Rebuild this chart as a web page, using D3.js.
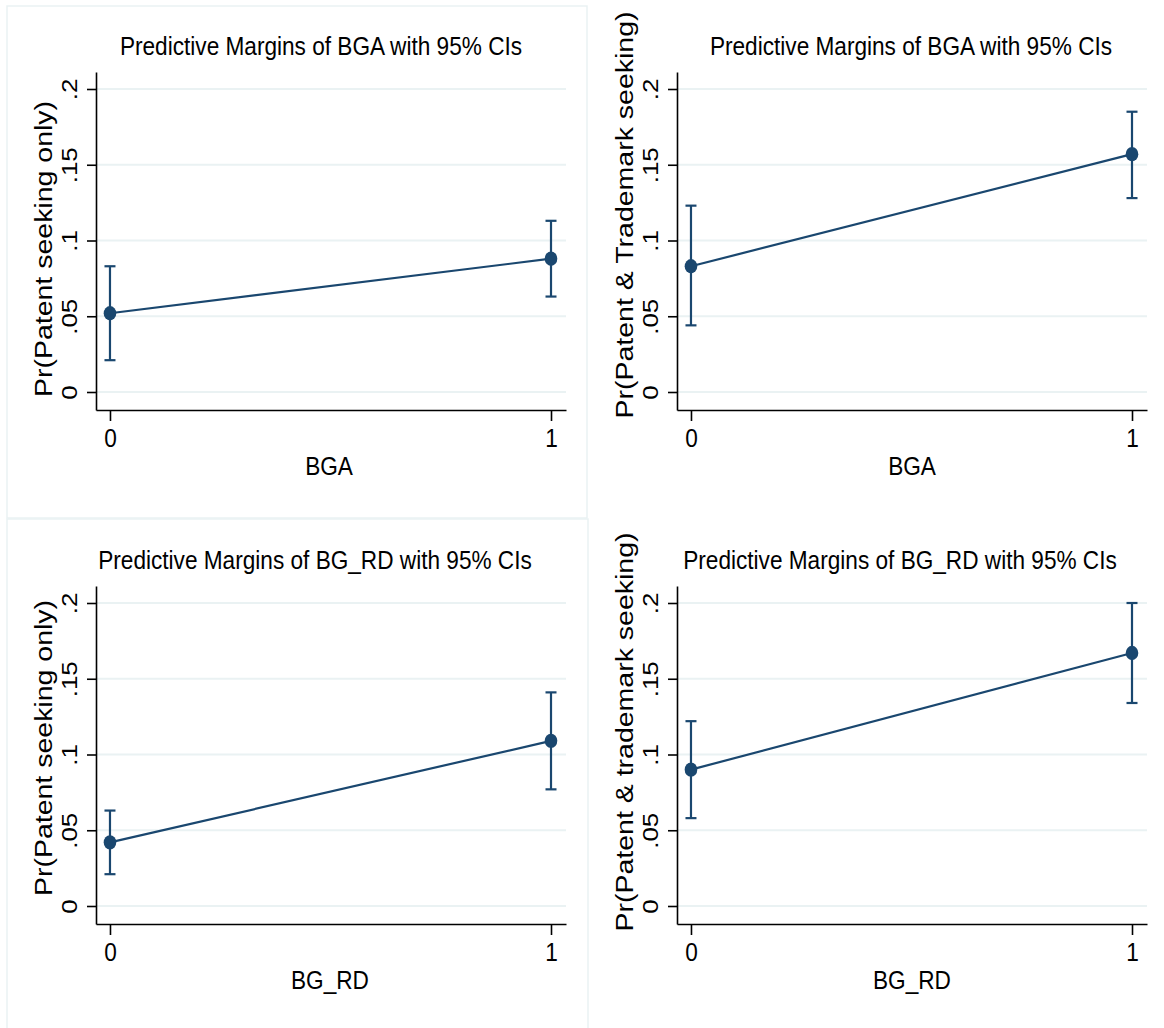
<!DOCTYPE html>
<html>
<head>
<meta charset="utf-8">
<script src="https://cdn.jsdelivr.net/npm/d3@7"></script>
<style>
  html, body { margin: 0; padding: 0; background: #fff; }
  svg { display: block; }
  text { font-family: "Liberation Sans", Arial, sans-serif; fill: #000; }
</style>
</head>
<body>
<svg id="chart" width="1164" height="1028"></svg>
<script>
// ---------- data ----------
const xCategories = [0, 1];
const xTickLabels = ["0", "1"];
const yTickValues = [0, 0.05, 0.1, 0.15, 0.2];
const yTickLabels = ["0", ".05", ".1", ".15", ".2"];

const panelTitles = [
  "Predictive Margins of BGA with 95% CIs",
  "Predictive Margins of BGA with 95% CIs",
  "Predictive Margins of BG_RD with 95% CIs",
  "Predictive Margins of BG_RD with 95% CIs"
];
const yTitles = [
  "Pr(Patent seeking only)",
  "Pr(Patent & Trademark seeking)",
  "Pr(Patent seeking only)",
  "Pr(Patent & trademark seeking)"
];
const xTitles = ["BGA", "BGA", "BG_RD", "BG_RD"];

// predictive margins (point estimates) at x = 0 and x = 1
const marginsP1 = [0.052, 0.088];
const marginsP2 = [0.083, 0.157];
const marginsP3 = [0.042, 0.109];
const marginsP4 = [0.090, 0.167];
// lower 95% CI
const lowerP1 = [0.021, 0.063];
const lowerP2 = [0.044, 0.128];
const lowerP3 = [0.021, 0.077];
const lowerP4 = [0.058, 0.134];
// upper 95% CI
const upperP1 = [0.083, 0.113];
const upperP2 = [0.123, 0.185];
const upperP3 = [0.063, 0.141];
const upperP4 = [0.122, 0.200];

const margins = [marginsP1, marginsP2, marginsP3, marginsP4];
const lowers = [lowerP1, lowerP2, lowerP3, lowerP4];
const uppers = [upperP1, upperP2, upperP3, upperP4];

// ---------- layout ----------
const NAVY = "#1a476f";
const GRID = "#eaf2f3";
const SX = 0.87;           // horizontal condensation of text
const FS = 26;

const panels = [
  { ox: 0,   oy: 0,   titleX: 321, yTitleY: 249, xTitleX: 329 },
  { ox: 581, oy: 0,   titleX: 911, yTitleY: 215, xTitleX: 912 },
  { ox: 0,   oy: 514, titleX: 315, yTitleY: 748, xTitleX: 330 },
  { ox: 581, oy: 514, titleX: 900, yTitleY: 732, xTitleX: 912 }
];

const svg = d3.select("#chart");

// panel borders (left panels)
svg.append("rect").attr("x", 7).attr("y", 6).attr("width", 580).attr("height", 512)
  .attr("fill", "none").attr("stroke", GRID).attr("stroke-width", 1.5);
svg.append("rect").attr("x", 7).attr("y", 519).attr("width", 581).attr("height", 510)
  .attr("fill", "none").attr("stroke", GRID).attr("stroke-width", 1.5);

function hText(g, x, y, str, anchor) {
  return g.append("text")
    .attr("transform", `translate(${x},${y}) scale(${SX},1)`)
    .attr("text-anchor", anchor || "middle")
    .attr("font-size", FS)
    .text(str);
}
function vText(g, x, y, str, fs) {
  return g.append("text")
    .attr("transform", `translate(${x},${y}) rotate(-90) scale(1,${SX})`)
    .attr("text-anchor", "middle")
    .attr("font-size", fs || FS)
    .text(str);
}

panels.forEach((p, i) => {
  const g = svg.append("g");
  const left = 96 + p.ox, right = 566 + p.ox;
  const top = 72 + p.oy, bottom = 410 + p.oy;

  const x = d3.scaleLinear().domain([-0.0317, 1.034]).range([left, right]);
  const y = d3.scaleLinear().domain([-0.01188, 0.21122]).range([bottom, top]);

  // gridlines
  g.selectAll("line.grid").data(yTickValues).enter().append("line")
    .attr("x1", left).attr("x2", right)
    .attr("y1", d => y(d)).attr("y2", d => y(d))
    .attr("stroke", GRID).attr("stroke-width", 2);

  // y axis
  const yAxis = d3.axisLeft(y).tickValues(yTickValues).tickSize(9).tickSizeOuter(0)
    .tickFormat((d, k) => yTickLabels[k]);
  const ya = g.append("g").attr("transform", `translate(${left},0)`).call(yAxis);
  ya.select(".domain").attr("stroke", "#000").attr("stroke-width", 1.6);
  ya.selectAll(".tick line").attr("stroke", "#000").attr("stroke-width", 1.6);
  ya.selectAll(".tick text")
    .attr("x", null).attr("dy", null)
    .attr("font-family", "Liberation Sans, Arial, sans-serif")
    .attr("font-size", FS).attr("fill", "#000")
    .attr("text-anchor", "middle")
    .attr("transform", `translate(-19,0) rotate(-90) scale(1,${SX})`);

  // x axis
  const xAxis = d3.axisBottom(x).tickValues(xCategories).tickSize(11).tickSizeOuter(0)
    .tickFormat((d, k) => xTickLabels[k]);
  const xa = g.append("g").attr("transform", `translate(0,${bottom})`).call(xAxis);
  xa.select(".domain").attr("stroke", "#000").attr("stroke-width", 1.6);
  xa.selectAll(".tick line").attr("stroke", "#000").attr("stroke-width", 1.6);
  xa.selectAll(".tick text")
    .attr("y", null).attr("dy", null)
    .attr("font-family", "Liberation Sans, Arial, sans-serif")
    .attr("font-size", FS).attr("fill", "#000")
    .attr("text-anchor", "middle")
    .attr("transform", `translate(0,37) scale(${SX},1)`);

  // connecting line
  const pts = xCategories.map((c, k) => [c, margins[i][k]]);
  g.append("path")
    .attr("d", d3.line().x(d => x(d[0])).y(d => y(d[1]))(pts))
    .attr("fill", "none").attr("stroke", NAVY).attr("stroke-width", 2.2);

  // error bars
  xCategories.forEach((c, k) => {
    const cx = x(c);
    g.append("line").attr("x1", cx).attr("x2", cx)
      .attr("y1", y(lowers[i][k])).attr("y2", y(uppers[i][k]))
      .attr("stroke", NAVY).attr("stroke-width", 2.2);
    [lowers[i][k], uppers[i][k]].forEach(v => {
      g.append("line").attr("x1", cx - 5.5).attr("x2", cx + 5.5)
        .attr("y1", y(v)).attr("y2", y(v))
        .attr("stroke", NAVY).attr("stroke-width", 2.2);
    });
    g.append("ellipse").attr("cx", cx).attr("cy", y(margins[i][k]))
      .attr("rx", 6.3).attr("ry", 7.2).attr("fill", NAVY);
  });

  // titles
  hText(g, p.titleX, 55 + p.oy, panelTitles[i]);
  vText(g, 52 + p.ox, p.yTitleY, yTitles[i], 28.5);
  hText(g, p.xTitleX, 475 + p.oy, xTitles[i]);
});
</script>
</body>
</html>
